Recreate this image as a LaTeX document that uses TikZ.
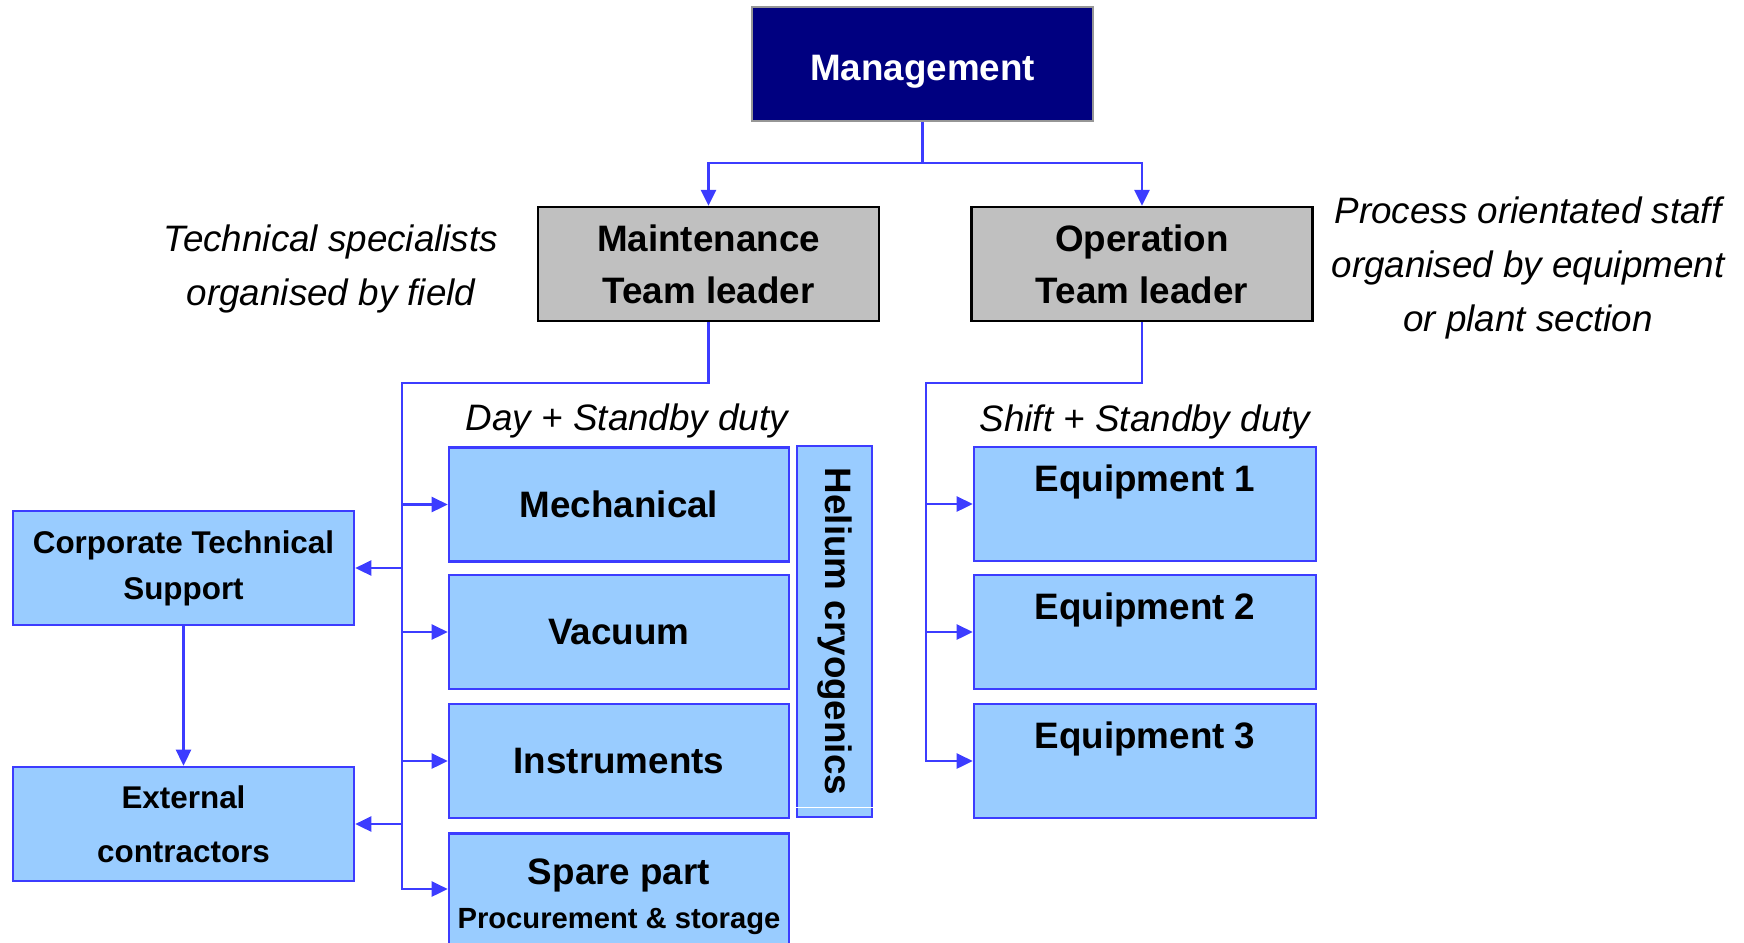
\documentclass[tikz,border=0pt]{standalone}
\usepackage{fontspec}
\setmainfont{Liberation Sans}
\usetikzlibrary{arrows.meta,calc}

\definecolor{navyfill}{RGB}{0,0,128}
\definecolor{mgmtedge}{RGB}{150,150,150}
\definecolor{leadfill}{RGB}{192,192,192}
\definecolor{unitfill}{RGB}{153,204,255}
\definecolor{linkblue}{RGB}{60,60,255}

\begin{document}
\begin{tikzpicture}[
  x=0.5pt, y=-0.5pt,
  bigfont/.style={font=\bfseries\fontsize{18.4}{26}\selectfont},
  notefont/.style={font=\itshape\fontsize{18.4}{27}\selectfont},
  topbox/.style={rectangle, draw=mgmtedge, fill=navyfill, line width=1.1pt,
    text=white, bigfont, minimum width=170.5pt, minimum height=57pt, inner sep=0pt},
  leadbox/.style={rectangle, draw=black, fill=leadfill, line width=1.2pt,
    bigfont, align=center, minimum width=170.5pt, minimum height=57pt, inner sep=0pt},
  unitbox/.style={rectangle, draw=linkblue, fill=unitfill, line width=1.3pt,
    bigfont, align=center, minimum width=170pt, minimum height=57pt, inner sep=0pt},
  sidebox/.style={unitbox, font=\bfseries\fontsize{15.7}{23}\selectfont, minimum width=170.5pt},
  conn/.style={draw=linkblue, line width=1.3pt},
  arr/.style={conn, -{Triangle[length=8pt,width=7.5pt]}},
  note/.style={notefont, align=center, inner sep=0pt}
]
\useasboundingbox (0,0) rectangle (1744,942);

% top level
\node[topbox, text height=16pt, text depth=0pt] (mgmt) at (922.5,64) {Management};

% team leaders
\node[leadbox] (maint) at (708.5,264) {Maintenance\\Team leader};
\node[leadbox] (oper)  at (1142,264) {Operation\\Team leader};

% maintenance units
\node[unitbox] (mech)  at (619,504.5) {Mechanical};
\node[unitbox] (vac)   at (619,632)   {Vacuum};
\node[unitbox] (instr) at (619,761)   {Instruments};
% the last box runs past the lower edge of the page
\node[unitbox, anchor=north, minimum height=63pt] (spare) at (619,832)
  {\fontsize{18.4}{23.5}\selectfont Spare part\\[-4pt]\fontsize{14.6}{23.5}\selectfont Procurement \& storage};
\coordinate (spareport) at ($(spare.north west)+(0,57)$);
\node[unitbox, rotate=-90, minimum width=185.5pt, minimum height=37.5pt] (helium)
  at (834.5,631.5) {Helium cryogenics};
\draw[white, line width=0.6pt]
  ($(helium.north east)+(3,-11)$) -- ($(helium.south east)+(-3,-11)$);

% external support
\node[sidebox] (cts) at (183.5,568) {Corporate Technical\\Support};
\node[sidebox, font=\bfseries\fontsize{15.7}{27}\selectfont] (ext) at (183.5,824) {External\\contractors};

% operation units
\node[unitbox, minimum width=171pt] (eq1) at (1145,504) {Equipment 1\\\mbox{}};
\node[unitbox, minimum width=171pt] (eq2) at (1145,632) {Equipment 2\\\mbox{}};
\node[unitbox, minimum width=171pt] (eq3) at (1145,761) {Equipment 3\\\mbox{}};

% annotations
\node[note] (daynote)   at (627,421)  {Day + Standby duty};
\node[note] (shiftnote) at (1145,422) {Shift + Standby duty};
\node[note] (technote)  at (331,269)  {Technical specialists\\organised by field};
\node[note] (procnote)  at (1528,268) {Process orientated staff\\organised by equipment\\or plant section};

% management to team leaders
\coordinate (split) at (922.5,163);
\draw[conn] (mgmt.south) -- (split);
\draw[arr] (split) -| (maint.north);
\draw[arr] (split) -| (oper.north);

% maintenance bus
\coordinate (mbus) at (402,383);
\draw[arr] (maint.south) |- (mbus) -- (mbus |- spareport) -- (spareport);
\draw[arr] (mbus |- mech.west)  -- (mech.west);
\draw[arr] (mbus |- vac.west)   -- (vac.west);
\draw[arr] (mbus |- instr.west) -- (instr.west);
\draw[arr] (mbus |- cts.east)   -- (cts.east);
\draw[arr] (mbus |- ext.east)   -- (ext.east);
\draw[arr] (cts.south) -- (ext.north);

% operation bus
\coordinate (obus) at (926,383);
\draw[arr] (oper.south) |- (obus) -- (obus |- eq3.west) -- (eq3.west);
\draw[arr] (obus |- eq1.west) -- (eq1.west);
\draw[arr] (obus |- eq2.west) -- (eq2.west);
\end{tikzpicture}
\end{document}
